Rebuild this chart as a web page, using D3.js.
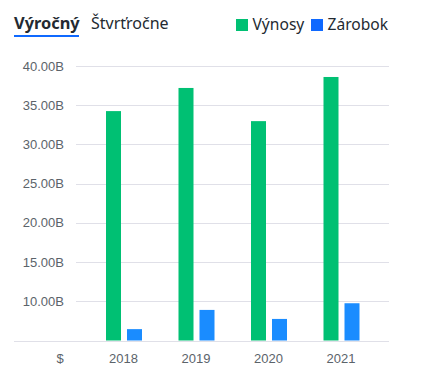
<!DOCTYPE html>
<html>
<head>
<meta charset="utf-8">
<script src="https://cdn.jsdelivr.net/npm/d3@7"></script>
<style>
    body { margin: 0; background: #fff; }
    .tab { font-family: "Noto Sans", sans-serif; fill: #232a31; }
    .legend-text { font-family: "Noto Sans", sans-serif; font-size: 15.6px; fill: #232a31; }
    .axis text { font-family: "Liberation Sans", Arial, sans-serif; font-size: 13px; fill: #5b636a; }
</style>
</head>
<body>
<svg id="chart"></svg>
<script>
var years = ["2018", "2019", "2020", "2021"];
var revenue = [34.25, 37.2, 32.97, 38.6];
var earnings = [6.45, 8.9, 7.75, 9.75];
var yTicks = [10, 15, 20, 25, 30, 35, 40];
var seriesNames = ["Výnosy", "Zárobok"];

var width = 426, height = 375;
var plotTop = 66, plotBottom = 340.5;

var svg = d3.select("#chart")
    .attr("width", width)
    .attr("height", height);

var x = d3.scaleBand()
    .domain(years)
    .range([87.75, 377.75])
    .padding(0);

var y = d3.scaleLinear()
    .domain([5, 40])
    .range([plotBottom, plotTop]);

// gridlines
svg.append("g")
    .selectAll("line")
    .data(yTicks)
    .enter().append("line")
    .attr("x1", 76)
    .attr("x2", 389)
    .attr("y1", function(d) { return Math.round(y(d)) + 0.5; })
    .attr("y2", function(d) { return Math.round(y(d)) + 0.5; })
    .attr("stroke", "#e0e0e8")
    .attr("stroke-width", 1);

// baseline
svg.append("line")
    .attr("x1", 14)
    .attr("x2", 389)
    .attr("y1", Math.round(y(5)) + 0.5)
    .attr("y2", Math.round(y(5)) + 0.5)
    .attr("stroke", "#e0e0e8");

// y labels
var yAxis = svg.append("g").attr("class", "axis");
yAxis.selectAll("text")
    .data(yTicks)
    .enter().append("text")
    .attr("x", 64)
    .attr("y", function(d) { return y(d) + 4.5; })
    .attr("text-anchor", "end")
    .text(function(d) { return d3.format(".2f")(d) + "B"; });

yAxis.append("text")
    .attr("x", 60)
    .attr("y", 362.5)
    .attr("text-anchor", "middle")
    .text("$");

yAxis.selectAll(".year")
    .data(years)
    .enter().append("text")
    .attr("class", "year")
    .attr("x", function(d) { return x(d) + x.bandwidth() / 2 - 0.5; })
    .attr("y", 362.5)
    .attr("text-anchor", "middle")
    .text(function(d) { return d; });

// bars
var barW = 15, gap = 6;
svg.append("g")
    .selectAll("rect")
    .data(years)
    .enter().append("rect")
    .attr("x", function(d) { return x(d) + x.bandwidth() / 2 - barW - gap / 2; })
    .attr("y", function(d, i) { return y(revenue[i]); })
    .attr("width", barW)
    .attr("height", function(d, i) { return y(5) - y(revenue[i]); })
    .attr("fill", "#00c073");

svg.append("g")
    .selectAll("rect")
    .data(years)
    .enter().append("rect")
    .attr("x", function(d) { return x(d) + x.bandwidth() / 2 + gap / 2; })
    .attr("y", function(d, i) { return y(earnings[i]); })
    .attr("width", barW)
    .attr("height", function(d, i) { return y(5) - y(earnings[i]); })
    .attr("fill", "#1a8cff");

// tabs
svg.append("text")
    .attr("class", "tab")
    .attr("x", 14)
    .attr("y", 29)
    .attr("font-size", "16.4px")
    .attr("font-weight", "bold")
    .text("Výročný");

svg.append("rect")
    .attr("x", 14)
    .attr("y", 35)
    .attr("width", 65)
    .attr("height", 2)
    .attr("fill", "#0f69ff");

svg.append("text")
    .attr("class", "tab")
    .attr("x", 91)
    .attr("y", 29)
    .attr("font-size", "16px")
    .text("Štvrťročne");

// legend
var legendX = [236, 311];
var legendColors = ["#00c073", "#0f69ff"];
var legend = svg.append("g");
legend.selectAll("rect")
    .data(seriesNames)
    .enter().append("rect")
    .attr("x", function(d, i) { return legendX[i]; })
    .attr("y", 19)
    .attr("width", 12)
    .attr("height", 12)
    .attr("fill", function(d, i) { return legendColors[i]; });

legend.selectAll("text")
    .data(seriesNames)
    .enter().append("text")
    .attr("class", "legend-text")
    .attr("x", function(d, i) { return legendX[i] + 16.5; })
    .attr("y", 30)
    .text(function(d) { return d; });
</script>
</body>
</html>
